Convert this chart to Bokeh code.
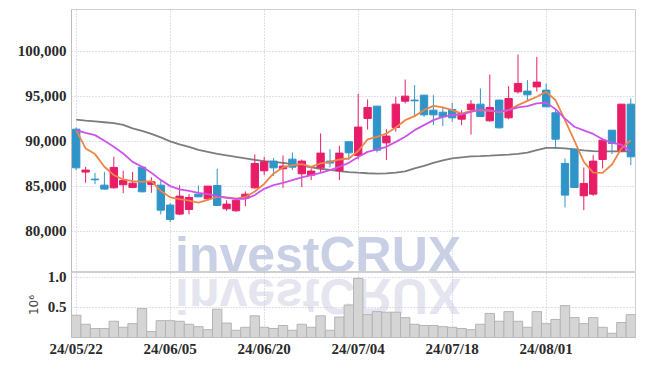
from bokeh.plotting import figure
from bokeh.models import Range1d, FixedTicker, Div, ColumnDataSource, NumeralTickFormatter
from bokeh.layouts import column
from bokeh.embed import file_html
from bokeh.resources import INLINE

dates = ["24/05/22", "24/05/23", "24/05/24", "24/05/27", "24/05/28", "24/05/29", "24/05/30", "24/05/31",
         "24/06/03", "24/06/04", "24/06/05", "24/06/07", "24/06/10", "24/06/11", "24/06/12", "24/06/13",
         "24/06/14", "24/06/17", "24/06/18", "24/06/19", "24/06/20", "24/06/21", "24/06/24", "24/06/25",
         "24/06/26", "24/06/27", "24/06/28", "24/07/01", "24/07/02", "24/07/03", "24/07/04", "24/07/05",
         "24/07/08", "24/07/09", "24/07/10", "24/07/11", "24/07/12", "24/07/15", "24/07/16", "24/07/17",
         "24/07/18", "24/07/19", "24/07/22", "24/07/23", "24/07/24", "24/07/25", "24/07/26", "24/07/29",
         "24/07/30", "24/07/31", "24/08/01", "24/08/02", "24/08/05", "24/08/06", "24/08/07", "24/08/08",
         "24/08/09", "24/08/12", "24/08/13", "24/08/14"]

opens = [91330, 86560, 85780, 85110, 84810, 85150, 84860, 87110, 85190, 85110,
         82900, 81890, 82410, 84110, 83590, 85070, 82480, 82260, 83670, 84810,
         86700, 87780, 86930, 88000, 86370, 86220, 87030, 87780, 86700, 89930,
         88410, 92520, 93890, 89810, 91520, 94440, 94560, 95110, 93440, 93220,
         93520, 92440, 93520, 94110, 92260, 94560, 92590, 95480, 95560, 96030,
         95670, 93150, 87520, 89110, 83930, 84110, 87960, 91220, 88920, 94110]
highs = [91520, 87150, 86480, 86590, 88260, 86700, 86590, 87260, 85970, 85740,
         83100, 85110, 84110, 85070, 85000, 86930, 83440, 83670, 84410, 88520,
         88260, 88110, 88410, 88740, 87960, 86960, 90850, 89110, 89480, 89930,
         95260, 94630, 93890, 91330, 94930, 96850, 96220, 95110, 95110, 93810,
         94260, 93440, 94560, 95850, 97410, 94600, 96110, 99630, 96780, 99370,
         96410, 93440, 88070, 89110, 87080, 88440, 90300, 91220, 94110, 94740]
lows = [86780, 85370, 85220, 84600, 84740, 84220, 84780, 84300, 84260, 81860,
        81000, 81780, 81860, 83810, 83440, 82790, 82260, 82150, 82780, 84700,
        86220, 86110, 84810, 86780, 84890, 85670, 86480, 87080, 85670, 87890,
        87960, 91300, 88740, 87890, 91030, 94190, 92700, 92700, 91780, 91670,
        92150, 91780, 90740, 92700, 92150, 91400, 92440, 95300, 94560, 95520,
        93810, 89110, 82630, 84850, 82330, 83930, 86960, 88560, 88900, 87330]
closes = [87030, 86780, 85700, 84670, 87080, 85630, 85330, 84370, 85480, 82330,
          81300, 83890, 83740, 83810, 85000, 82860, 83000, 83440, 84110, 87520,
          87700, 87030, 87220, 87110, 87780, 86670, 88670, 87560, 88670, 88700,
          91560, 93740, 89000, 90560, 94110, 95000, 94480, 92920, 92920, 92700,
          92590, 93070, 94110, 92740, 93740, 91480, 94740, 96410, 95150, 96560,
          93810, 90220, 84000, 84850, 85300, 87780, 90110, 89740, 94110, 88260]

ma5 = [91220, 89190, 88560, 87150, 86220, 85740, 85560, 85480, 85560, 84450,
       83750, 83550, 83400, 83170, 83480, 83800, 83750, 83600, 83800, 84400,
       85250, 86410, 87080, 87330, 87440, 87150, 87520, 87700, 87960, 88070,
       88900, 90190, 90480, 90850, 91520, 92330, 92780, 93440, 93920, 93740,
       93440, 93070, 93370, 93440, 93370, 93220, 93440, 94000, 94480, 94930,
       95480, 94540, 92330, 90050, 87700, 86500, 86480, 87400, 89200, 90100]
ma20 = [91220, 90930, 90670, 90040, 89370, 88630, 87700, 87150, 86480, 85670,
        85000, 84630, 84480, 84260, 84110, 83890, 83700, 83590, 83590, 84000,
        84700, 85110, 85370, 85670, 85960, 86220, 86480, 86780, 87150, 87590,
        88230, 88810, 89080, 89370, 89920, 90480, 91220, 91780, 92330, 92700,
        92920, 92960, 93260, 93520, 93440, 93260, 93440, 93740, 93890, 94190,
        94280, 93550, 92500, 91600, 91200, 90800, 90200, 89800, 89600, 88850]
ma60 = [92380, 92280, 92190, 92100, 92000, 91800, 91410, 91130, 90800, 90410,
        89970, 89630, 89360, 89020, 88800, 88580, 88410, 88240, 88080, 87910,
        87780, 87690, 87580, 87440, 87270, 87080, 86930, 86800, 86670, 86560,
        86490, 86430, 86390, 86410, 86490, 86630, 86970, 87240, 87580, 87860,
        88080, 88190, 88300, 88330, 88380, 88440, 88500, 88580, 88720, 88990,
        89240, 89240, 89190, 89080, 88970, 88890, 88860, 88860, 88860, 88860]

volumes = [370000, 220000, 150000, 150000, 270000, 170000, 230000, 480000, 100000, 280000,
           280000, 270000, 220000, 180000, 130000, 470000, 240000, 120000, 170000, 360000,
           170000, 150000, 200000, 120000, 220000, 170000, 360000, 120000, 340000, 540000,
           980000, 380000, 430000, 420000, 420000, 330000, 220000, 200000, 200000, 180000,
           170000, 150000, 130000, 220000, 400000, 270000, 430000, 270000, 170000, 430000,
           230000, 300000, 530000, 330000, 230000, 330000, 170000, 70000, 250000, 380000]

price_ticks = [80000, 85000, 90000, 95000, 100000]
vol_ticks = [0.5, 1.0]
date_tick_idx = [0, 10, 20, 30, 40, 50]
watermark = "investCRUX"

UP = "#e81d67"
DOWN = "#2f94c7"
FONT = "Liberation Sans Narrow"
GRID = "#bcc3da"

idx = list(range(len(dates)))
src = ColumnDataSource(dict(
    x=idx, open=opens, high=highs, low=lows, close=closes,
    top=[max(o, c) for o, c in zip(opens, closes)],
    bottom=[min(o, c) for o, c in zip(opens, closes)],
    color=[UP if c > o else DOWN for o, c in zip(opens, closes)],
    ma5=ma5, ma20=ma20, ma60=ma60,
    vol=[v / 1e6 for v in volumes],
))

xr = Range1d(-0.5, 59.5)


def style_grid(fig):
    fig.xgrid.ticker = FixedTicker(ticks=date_tick_idx)
    for g in (fig.xgrid, fig.ygrid):
        g.grid_line_color = GRID
        g.grid_line_dash = "1 2"
        g.grid_line_width = 1


def style_axis(ax):
    ax.major_tick_line_color = None
    ax.minor_tick_line_color = None
    ax.major_tick_out = 0
    ax.major_tick_in = 0
    ax.minor_tick_out = 0
    ax.minor_tick_in = 0
    ax.axis_line_color = "#bdbdbd"
    ax.major_label_text_font = FONT
    ax.major_label_text_font_size = "15px"
    ax.major_label_text_font_style = "bold"
    ax.major_label_text_color = "#2a2a2a"
    ax.major_label_standoff = 5


p = figure(width=643, height=272, x_range=xr, y_range=Range1d(75400, 104630),
           output_backend="svg", toolbar_location=None,
           min_border_left=71, min_border_right=8, min_border_top=9, min_border_bottom=0)
p.background_fill_alpha = 0
p.border_fill_alpha = 0
p.xaxis.visible = False
p.outline_line_color = "#cfcfcf"
p.yaxis.ticker = FixedTicker(ticks=price_ticks)
p.yaxis.formatter = NumeralTickFormatter(format="0,0")
style_axis(p.yaxis)
style_grid(p)

p.line("x", "ma60", source=src, line_color="#7d7d7d", line_width=1.8)
p.segment(x0="x", y0="low", x1="x", y1="high", source=src, line_color="color", line_width=1)
p.vbar(x="x", top="top", bottom="bottom", width=0.78, source=src,
       fill_color="color", line_color="color", line_width=1)
p.line("x", "ma5", source=src, line_color="#ee8448", line_width=1.8)
p.line("x", "ma20", source=src, line_color="#cc55e8", line_width=1.8)

wm_font = "font-family:'Liberation Sans',sans-serif;font-weight:bold;font-size:50px;line-height:40px;white-space:nowrap;"
wm_html = (
    '<div style="position:relative;width:0;height:0;">'
    f'<div style="position:absolute;left:175px;top:223px;color:#c9d0e6;{wm_font}">{watermark}</div>'
    f'<div style="position:absolute;left:175px;top:264px;color:#e4e5ee;transform:scaleY(-1);{wm_font}">{watermark}</div>'
    '</div>'
)
wm = Div(text=wm_html, width=643, height=0, margin=0, styles={"overflow": "visible"})

pv = figure(width=643, height=95, x_range=xr, y_range=Range1d(0, 1.08),
            output_backend="svg", toolbar_location=None, margin=(-8, 0, 0, 0),
            min_border_left=71, min_border_right=8, min_border_top=8, min_border_bottom=22)
pv.background_fill_alpha = 0
pv.border_fill_alpha = 0
pv.outline_line_color = "#cfcfcf"
pv.vbar(x="x", top="vol", bottom=0, width=1.0, source=src,
        fill_color="#d5d5d5", line_color="#b4b4b4", line_width=1)
pv.yaxis.ticker = FixedTicker(ticks=vol_ticks)
pv.yaxis.formatter = NumeralTickFormatter(format="0.0")
pv.yaxis.axis_label = "10\u2076"
pv.yaxis.axis_label_text_font = "DejaVu Sans"
pv.yaxis.axis_label_text_font_style = "normal"
pv.yaxis.axis_label_text_font_size = "12px"
pv.yaxis.axis_label_text_color = "#444444"
pv.yaxis.axis_label_standoff = 4
pv.xaxis.ticker = FixedTicker(ticks=date_tick_idx)
pv.xaxis.major_label_overrides = {i: dates[i] for i in date_tick_idx}
style_axis(pv.xaxis)
style_axis(pv.yaxis)
pv.xaxis.major_label_standoff = 3
style_grid(pv)

layout = column(wm, p, pv, spacing=0)
open("out.html", "w").write(file_html(layout, INLINE))
